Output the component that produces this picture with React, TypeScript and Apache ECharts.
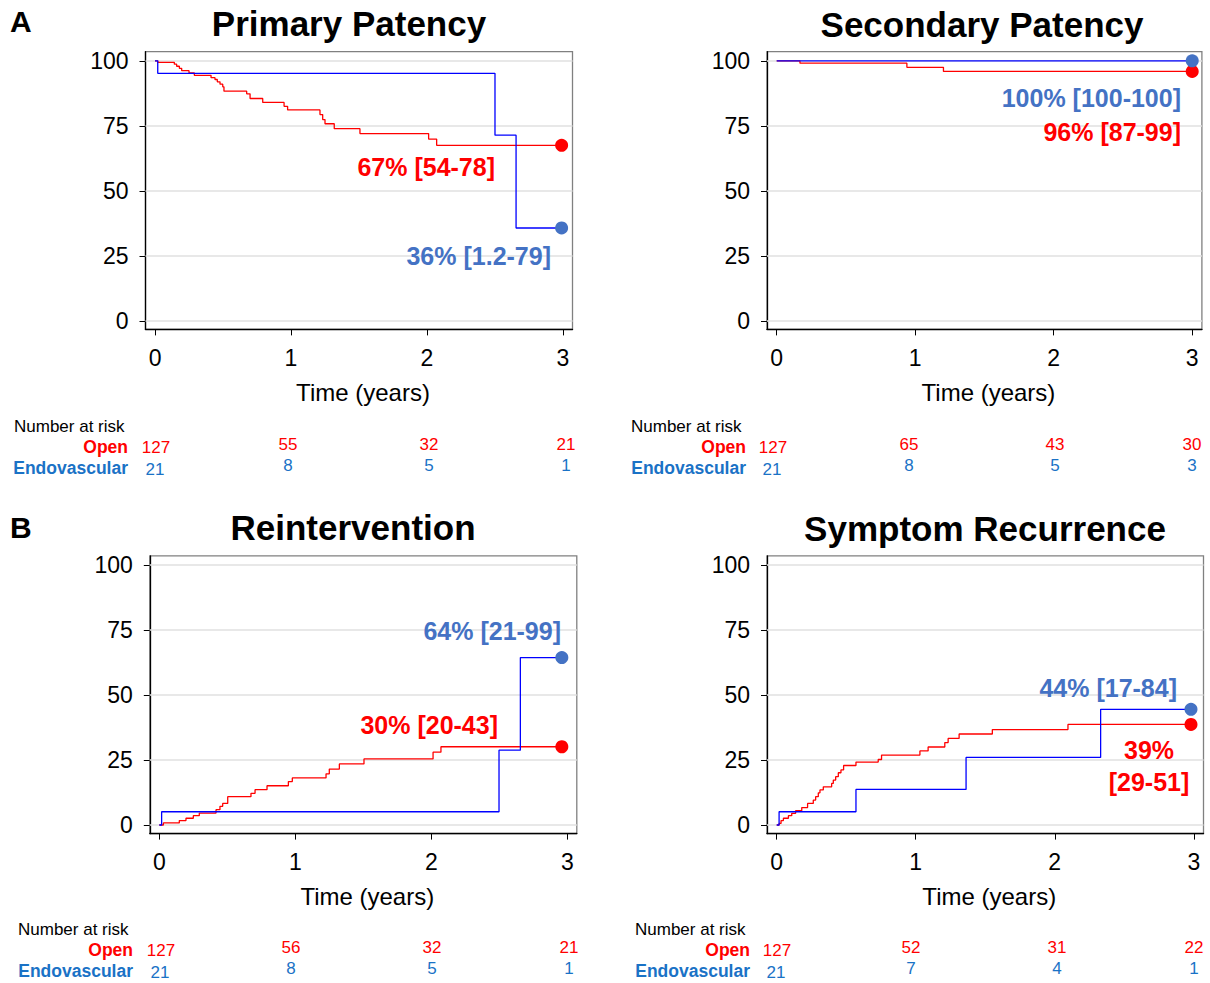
import React, { useEffect, useRef } from "react";
import * as echarts from "echarts";

const FONT = "'Liberation Sans', Arial, Helvetica, sans-serif";
const RED = "#ff0000";
const BLUE_LINE = "#0000ff";
const BLUE_DOT = "#4472c4";
const BLUE_RISK = "#1a72c6";

// ---- data ----
const yearTicks = [0, 1, 2, 3];
const pctTicks = [0, 25, 50, 75, 100];

const primaryOpen: [number, number][] = [
  [0, 100], [0.02, 99.4], [0.142, 98.7], [0.159, 97.9], [0.179, 97.1], [0.196, 96.2],
  [0.25, 95.3], [0.289, 94.4], [0.412, 93.5], [0.441, 92.8], [0.458, 91.9], [0.478, 91.0],
  [0.498, 90.0], [0.507, 88.3], [0.674, 87.3], [0.699, 85.5], [0.792, 84.0], [0.949, 82.5],
  [0.975, 81.1], [1.213, 79.3], [1.233, 77.4], [1.25, 75.8], [1.318, 73.9], [1.507, 72.0],
  [2.012, 69.9], [2.071, 67.5], [2.99, 67.5],
];
const primaryEndo: [number, number][] = [
  [0, 100], [0.02, 95.2], [2.5, 71.4], [2.655, 35.7], [2.99, 35.7],
];

const secondaryOpen: [number, number][] = [
  [0, 100], [0.168, 99.1], [0.94, 97.5], [1.204, 95.9], [3.0, 95.9],
];
const secondaryEndo: [number, number][] = [[0, 100], [3.0, 100]];

const reintOpen: [number, number][] = [
  [0, 0], [0.03, 0.8], [0.147, 1.7], [0.196, 2.6], [0.25, 3.6], [0.294, 4.6], [0.417, 5.9],
  [0.446, 7.2], [0.466, 8.3], [0.503, 10.9], [0.674, 12.2], [0.704, 13.6], [0.792, 15.1],
  [0.949, 16.7], [0.978, 18.1], [1.226, 19.7], [1.25, 21.5], [1.324, 23.5], [1.505, 25.4],
  [2.013, 28.0], [2.071, 30.1], [2.96, 30.1],
];
const reintEndo: [number, number][] = [
  [0, 0], [0.017, 5.1], [2.498, 28.8], [2.655, 64.4], [2.96, 64.4],
];

const symptomOpen: [number, number][] = [
  [0, 0], [0.017, 0.6], [0.031, 1.7], [0.048, 2.6], [0.084, 3.6], [0.108, 4.5], [0.136, 5.5],
  [0.18, 6.7], [0.222, 8.3], [0.263, 9.6], [0.28, 10.9], [0.299, 12.4], [0.311, 13.5],
  [0.335, 14.7], [0.395, 16.0], [0.407, 17.3], [0.424, 18.6], [0.443, 20.1], [0.462, 21.2],
  [0.481, 22.9], [0.57, 24.2], [0.73, 25.2], [0.754, 26.9], [1.03, 28.5], [1.089, 30.0],
  [1.209, 31.7], [1.233, 33.3], [1.312, 35.0], [1.551, 36.7], [2.095, 38.7], [2.98, 38.7],
];
const symptomEndo: [number, number][] = [
  [0, 0], [0.017, 5.1], [0.57, 13.7], [1.362, 26.0], [2.33, 44.5], [2.98, 44.5],
];

const riskPrimaryOpen = [127, 55, 32, 21];
const riskPrimaryEndo = [21, 8, 5, 1];
const riskSecondaryOpen = [127, 65, 43, 30];
const riskSecondaryEndo = [21, 8, 5, 3];
const riskReintOpen = [127, 56, 32, 21];
const riskReintEndo = [21, 8, 5, 1];
const riskSymptomOpen = [127, 52, 31, 22];
const riskSymptomEndo = [21, 7, 4, 1];

const titles = ["Primary Patency", "Secondary Patency", "Reintervention", "Symptom Recurrence"];
const openLabels = [["67% [54-78]"], ["96% [87-99]"], ["30% [20-43]"], ["39%", "[29-51]"]];
const endoLabels = ["36% [1.2-79]", "100% [100-100]", "64% [21-99]", "44% [17-84]"];

// ---- layout ----
const X_MIN = -0.07;
const X_MAX = 3.07;
const Y_MIN = -3.3;
const Y_MAX = 103.5;

type Panel = {
  grid: { left: number; top: number; width: number; height: number };
  titleX: number;
  titleY: number;
  open: [number, number][];
  endo: [number, number][];
  riskOpen: number[];
  riskEndo: number[];
  openLabelPos: { x: number; y: number; align: string; dy?: number };
  endoLabelPos: { x: number; y: number; align: string };
  table: { narX: number; narY: number; labelRight: number; openY: number; endoY: number; cols: number[] };
};

const panels: Panel[] = [
  {
    grid: { left: 145.5, top: 51.7, width: 427, height: 277.7 },
    titleX: 349, titleY: 23,
    open: primaryOpen, endo: primaryEndo,
    riskOpen: riskPrimaryOpen, riskEndo: riskPrimaryEndo,
    openLabelPos: { x: 495, y: 167, align: "right" },
    endoLabelPos: { x: 551, y: 256, align: "right" },
    table: { narX: 14, narY: 426, labelRight: 128, openY: 447, endoY: 468, cols: [156, 288, 429, 566] },
  },
  {
    grid: { left: 767, top: 51.7, width: 434.9, height: 277.7 },
    titleX: 982, titleY: 24,
    open: secondaryOpen, endo: secondaryEndo,
    riskOpen: riskSecondaryOpen, riskEndo: riskSecondaryEndo,
    openLabelPos: { x: 1181, y: 132, align: "right" },
    endoLabelPos: { x: 1181, y: 98, align: "right" },
    table: { narX: 631, narY: 426, labelRight: 746, openY: 447, endoY: 468, cols: [773, 909, 1055, 1192] },
  },
  {
    grid: { left: 149.8, top: 555.9, width: 427, height: 277.7 },
    titleX: 353, titleY: 527,
    open: reintOpen, endo: reintEndo,
    riskOpen: riskReintOpen, riskEndo: riskReintEndo,
    openLabelPos: { x: 498, y: 725, align: "right" },
    endoLabelPos: { x: 561, y: 631, align: "right" },
    table: { narX: 18, narY: 929, labelRight: 133, openY: 950, endoY: 971, cols: [161, 291, 432, 569] },
  },
  {
    grid: { left: 767, top: 555.9, width: 436.5, height: 277.7 },
    titleX: 985, titleY: 528,
    open: symptomOpen, endo: symptomEndo,
    riskOpen: riskSymptomOpen, riskEndo: riskSymptomEndo,
    openLabelPos: { x: 1149, y: 750, align: "center", dy: 32 },
    endoLabelPos: { x: 1177, y: 688, align: "right" },
    table: { narX: 635, narY: 929, labelRight: 750, openY: 950, endoY: 971, cols: [777, 911, 1057, 1194] },
  },
];

function txt(x: number, y: number, text: string, opts: any = {}) {
  return {
    type: "text",
    x,
    y,
    z: 100,
    silent: true,
    style: {
      text,
      fill: opts.fill || "#000",
      fontSize: opts.fontSize || 17,
      fontWeight: opts.fontWeight || "normal",
      fontFamily: FONT,
      align: opts.align || "left",
      verticalAlign: "middle",
    },
  };
}

function buildOption() {
  const grids: any[] = [];
  const xAxes: any[] = [];
  const yAxes: any[] = [];
  const series: any[] = [];
  const graphics: any[] = [];

  panels.forEach((p, i) => {
    grids.push({
      ...p.grid,
      show: true,
      borderColor: "#808080",
      borderWidth: 1.3,
      backgroundColor: "transparent",
      containLabel: false,
    });
    xAxes.push({
      type: "value",
      gridIndex: i,
      min: X_MIN,
      max: X_MAX,
      axisLine: { show: true, onZero: false, lineStyle: { color: "#000", width: 1.3 } },
      axisTick: { show: true, length: 6, customValues: yearTicks, lineStyle: { color: "#000", width: 1 } },
      axisLabel: { customValues: yearTicks, fontSize: 23, color: "#000", margin: 17, fontFamily: FONT },
      splitLine: { show: false },
      name: "Time (years)",
      nameLocation: "middle",
      nameGap: 51,
      nameTextStyle: { fontSize: 24, color: "#000", fontFamily: FONT, padding: [0, 0, 0, 8] },
    });
    yAxes.push({
      type: "value",
      gridIndex: i,
      min: Y_MIN,
      max: Y_MAX,
      axisLine: { show: true, onZero: false, lineStyle: { color: "#000", width: 1.3 } },
      axisTick: { show: true, length: 6, customValues: pctTicks, lineStyle: { color: "#000", width: 1 } },
      axisLabel: { customValues: pctTicks, fontSize: 23, color: "#000", margin: 17, fontFamily: FONT },
      splitLine: { show: false },
    });
    // gridlines
    series.push({
      type: "line",
      xAxisIndex: i,
      yAxisIndex: i,
      data: [[0, 0]],
      showSymbol: false,
      lineStyle: { opacity: 0 },
      silent: true,
      z: 1,
      markLine: {
        silent: true,
        z: 1,
        symbol: ["none", "none"],
        label: { show: false },
        lineStyle: { color: "#e0e0e0", type: "solid", width: 1.6 },
        data: pctTicks.map((v) => ({ yAxis: v })),
      },
    });
    series.push({
      type: "line",
      name: "Open",
      xAxisIndex: i,
      yAxisIndex: i,
      step: "end",
      data: p.open,
      showSymbol: false,
      lineStyle: { color: RED, width: 1.3 },
      z: 3,
    });
    series.push({
      type: "line",
      name: "Endovascular",
      xAxisIndex: i,
      yAxisIndex: i,
      step: "end",
      data: p.endo,
      showSymbol: false,
      lineStyle: { color: BLUE_LINE, width: 1.3 },
      z: 4,
    });
    series.push({
      type: "scatter",
      xAxisIndex: i,
      yAxisIndex: i,
      data: [p.open[p.open.length - 1]],
      symbolSize: 13,
      itemStyle: { color: RED, opacity: 1 },
      z: 5,
    });
    series.push({
      type: "scatter",
      xAxisIndex: i,
      yAxisIndex: i,
      data: [p.endo[p.endo.length - 1]],
      symbolSize: 13,
      itemStyle: { color: BLUE_DOT, opacity: 1 },
      z: 5,
    });

    // title
    graphics.push(txt(p.titleX, p.titleY, titles[i], { fontSize: 35, fontWeight: "bold", align: "center" }));

    // estimates
    openLabels[i].forEach((t, k) => {
      graphics.push(
        txt(p.openLabelPos.x, p.openLabelPos.y + k * (p.openLabelPos.dy || 0), t, {
          fontSize: 25,
          fontWeight: "bold",
          fill: RED,
          align: p.openLabelPos.align,
        })
      );
    });
    graphics.push(
      txt(p.endoLabelPos.x, p.endoLabelPos.y, endoLabels[i], {
        fontSize: 25,
        fontWeight: "bold",
        fill: BLUE_DOT,
        align: p.endoLabelPos.align,
      })
    );

    // number at risk table
    const t = p.table;
    graphics.push(txt(t.narX, t.narY, "Number at risk", { fontSize: 17 }));
    graphics.push(txt(t.labelRight, t.openY, "Open", { fontSize: 17.5, fontWeight: "bold", fill: RED, align: "right" }));
    graphics.push(
      txt(t.labelRight, t.endoY, "Endovascular", { fontSize: 17.5, fontWeight: "bold", fill: BLUE_RISK, align: "right" })
    );
    yearTicks.forEach((_, c) => {
      const shift = c === 0 ? 0 : -3;
      graphics.push(txt(t.cols[c], t.openY + shift, String(p.riskOpen[c]), { fontSize: 17, fill: RED, align: "center" }));
      graphics.push(
        txt(t.cols[c] - (c === 0 ? 1 : 0), t.endoY + (c === 0 ? 1 : -3), String(p.riskEndo[c]), {
          fontSize: 17,
          fill: BLUE_RISK,
          align: "center",
        })
      );
    });
  });

  graphics.push(txt(10, 21, "A", { fontSize: 30, fontWeight: "bold" }));
  graphics.push(txt(10, 527, "B", { fontSize: 30, fontWeight: "bold" }));

  return {
    animation: false,
    backgroundColor: "#ffffff",
    textStyle: { fontFamily: FONT },
    grid: grids,
    xAxis: xAxes,
    yAxis: yAxes,
    series,
    graphic: graphics,
  };
}

export default function App() {
  const ref = useRef<HTMLDivElement>(null);
  useEffect(() => {
    if (!ref.current) return;
    const chart = echarts.init(ref.current, undefined, { renderer: "svg" });
    chart.setOption(buildOption() as any);
    return () => chart.dispose();
  }, []);
  return (
    <div
      ref={ref}
      style={{ position: "fixed", left: 0, top: 0, width: 1210, height: 983, background: "#fff" }}
    />
  );
}
